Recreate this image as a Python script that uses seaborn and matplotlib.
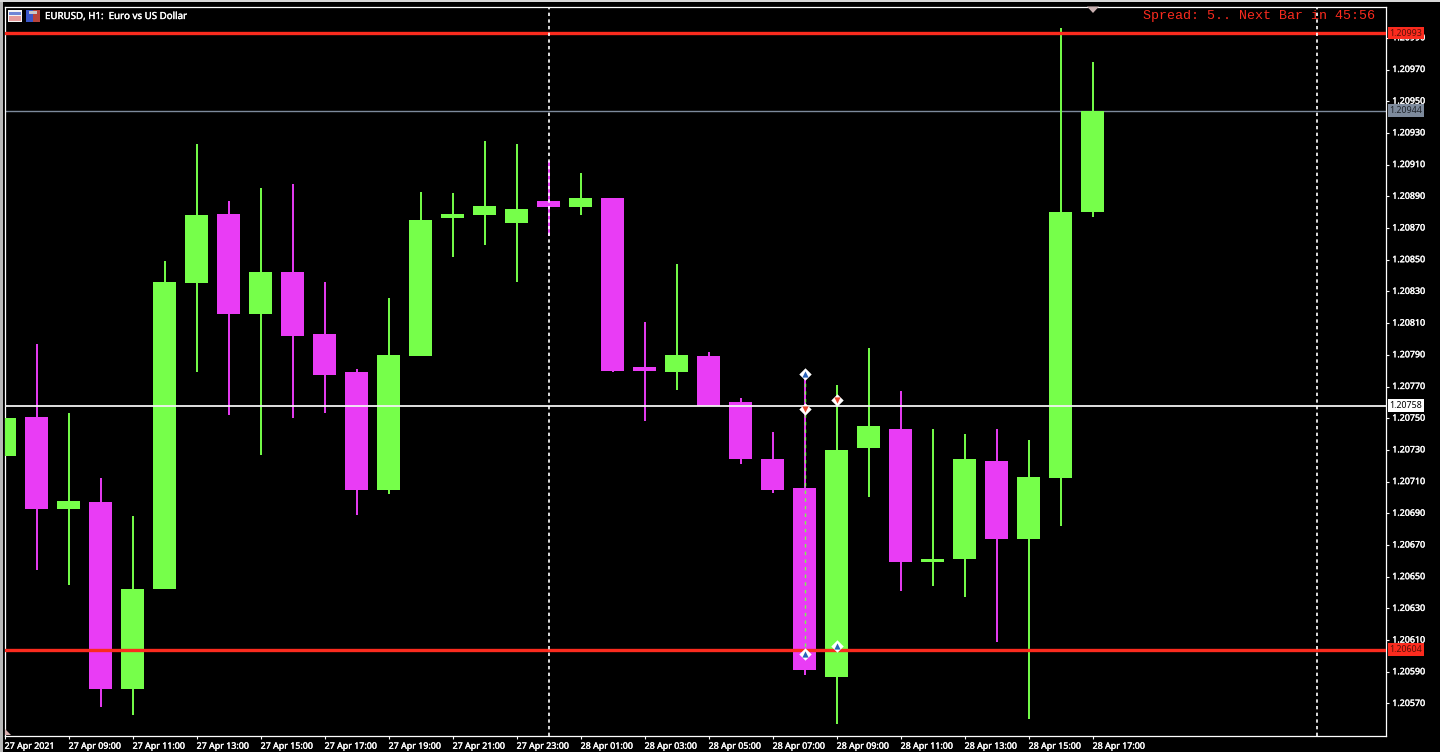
import matplotlib
matplotlib.use("Agg")
import matplotlib.pyplot as plt
import matplotlib.patheffects as pe
from matplotlib.patches import Rectangle
from matplotlib.ticker import FixedLocator
import numpy as np
import pandas as pd
import seaborn as sns

# candle values, oldest first (27 Apr 2021 07:00 onward, one per hour)
open_px = [1.20726, 1.20751, 1.20693, 1.20697, 1.20579, 1.20642, 1.20835, 1.20879, 1.20816, 1.20842,
           1.20803, 1.20779, 1.20705, 1.20789, 1.20876, 1.20878, 1.20873, 1.20887, 1.20883, 1.20889,
           1.20782, 1.20779, 1.20789, 1.20760, 1.20724, 1.20706, 1.20587, 1.20731, 1.20743, 1.20659,
           1.20661, 1.20723, 1.20674, 1.20712, 1.20880]
close_px = [1.20750, 1.20693, 1.20698, 1.20579, 1.20642, 1.20836, 1.20878, 1.20816, 1.20842, 1.20802,
            1.20777, 1.20705, 1.20790, 1.20875, 1.20879, 1.20884, 1.20882, 1.20883, 1.20889, 1.20780,
            1.20780, 1.20790, 1.20758, 1.20724, 1.20705, 1.20591, 1.20730, 1.20745, 1.20659, 1.20661,
            1.20724, 1.20674, 1.20713, 1.20880, 1.20944]
high_px = [1.20750, 1.20797, 1.20753, 1.20712, 1.20688, 1.20849, 1.20923, 1.20887, 1.20895, 1.20898,
           1.20836, 1.20781, 1.20826, 1.20893, 1.20892, 1.20925, 1.20923, 1.20912, 1.20905, 1.20889,
           1.20811, 1.20847, 1.20792, 1.20763, 1.20741, 1.20778, 1.20771, 1.20794, 1.20767, 1.20743,
           1.20740, 1.20743, 1.20736, 1.20996, 1.20975]
low_px = [1.20726, 1.20654, 1.20645, 1.20568, 1.20563, 1.20642, 1.20779, 1.20752, 1.20727, 1.20750,
          1.20753, 1.20689, 1.20702, 1.20789, 1.20852, 1.20859, 1.20836, 1.20865, 1.20878, 1.20779,
          1.20748, 1.20768, 1.20758, 1.20721, 1.20703, 1.20588, 1.20557, 1.20700, 1.20641, 1.20644,
          1.20637, 1.20609, 1.20560, 1.20682, 1.20877]

y_ticks = [1.20570, 1.20590, 1.20610, 1.20630, 1.20650, 1.20670, 1.20690, 1.20710, 1.20730, 1.20750,
           1.20770, 1.20790, 1.20810, 1.20830, 1.20850, 1.20870, 1.20890, 1.20910, 1.20930, 1.20950,
           1.20970, 1.20990]
x_tick_pos = [0, 2, 4, 6, 8, 10, 12, 14, 16, 18, 20, 22, 24, 26, 28, 30, 32, 34]
x_tick_labels = ["27 Apr 2021", "27 Apr 09:00", "27 Apr 11:00", "27 Apr 13:00", "27 Apr 15:00",
                 "27 Apr 17:00", "27 Apr 19:00", "27 Apr 21:00", "27 Apr 23:00", "28 Apr 01:00",
                 "28 Apr 03:00", "28 Apr 05:00", "28 Apr 07:00", "28 Apr 09:00", "28 Apr 11:00",
                 "28 Apr 13:00", "28 Apr 15:00", "28 Apr 17:00"]

red_levels = [1.20993, 1.20604]
grey_level = 1.20944
white_level = 1.20758
day_separators = [17, 41]
entry_bars = [25, 26]
entry_up = [1.20778, 1.20606]
entry_down = [1.20756, 1.207615]
entry_low = [1.20601]

W, H = 1440, 752
GREEN, MAGENTA, RED, SLATE = "#76ff4a", "#e93cf5", "#fb2b1e", "#7d8a9c"
FONT = ["Noto Sans", "DejaVu Sans"]
heavy = [pe.withStroke(linewidth=0.25, foreground="white")]

sns.set_theme(style="white")
plt.rcParams["font.family"] = FONT

df = pd.DataFrame(dict(i=range(len(open_px)), o=open_px, c=close_px, h=high_px, l=low_px))
df["bottom"] = df[["o", "c"]].min(axis=1)
df["body"] = (df.c - df.o).abs()
df["up"] = df.c >= df.o

fig = plt.figure(figsize=(W / 100, H / 100), dpi=100, facecolor="black")
L, R, T, B = 4.5, 1386, 6.5, 735.5
ax = fig.add_axes([L / W, 1 - B / H, (R - L) / W, (B - T) / H], facecolor="black")

# wicks
ax.vlines(df.i[df.up], df.l[df.up], df.h[df.up], color=GREEN, lw=1.4, zorder=2)
ax.vlines(df.i[~df.up], df.l[~df.up], df.h[~df.up], color=MAGENTA, lw=1.4, zorder=2)

# bodies
for mask, col in ((df.up, GREEN), (~df.up, MAGENTA)):
    sub = df[mask]
    sns.barplot(data=sub, x="i", y="body", bottom=sub["bottom"].to_numpy(), color=col, saturation=1,
                native_scale=True, width=0.72, errorbar=None, linewidth=0, ax=ax, zorder=3)

# price lines
ax.axhline(grey_level, color=SLATE, lw=1.0, zorder=1)
ax.axhline(white_level, color="#f2f2f2", lw=1.3, zorder=5)
for v in red_levels:
    ax.axhline(v, color=RED, lw=2.4, zorder=5)
for v in day_separators:
    ax.axvline(v, color="white", lw=1.2, ls=(0, (2.0, 2.0)), zorder=6)

# trade markers
ax.vlines(entry_bars[0], entry_low[0], entry_up[0], color=GREEN, lw=1.0, ls=(0, (2.5, 3)), zorder=6)
ax.scatter(entry_bars, entry_up, marker="D", s=40, c="white", linewidths=0, zorder=7)
ax.scatter(entry_bars, entry_up, marker="^", s=20, c="#2a62b8", linewidths=0, zorder=8)
ax.scatter(entry_bars[0], entry_low[0], marker="D", s=40, c="white", linewidths=0, zorder=7)
ax.scatter(entry_bars[0], entry_low[0], marker="^", s=20, c="#2a62b8", linewidths=0, zorder=8)
ax.scatter(entry_bars, entry_down, marker="D", s=40, c="white", linewidths=0, zorder=7)
ax.scatter(entry_bars, entry_down, marker="v", s=20, c="#e8452c", linewidths=0, zorder=8)

ax.set_xlim((L - 4.6) / 32, (R - 4.6) / 32)
ax.set_ylim(1.20570 + (703.5 - B) / 158500, 1.20570 + (703.5 - T) / 158500)
ax.set_xlabel("")
ax.set_ylabel("")

ax.xaxis.set_major_locator(FixedLocator(x_tick_pos))
ax.set_xticklabels(x_tick_labels, ha="left", fontsize=6.4, color="white", path_effects=heavy)
ax.yaxis.tick_right()
ax.yaxis.set_major_locator(FixedLocator(y_ticks))
ax.set_yticklabels([f"{v:.5f}" for v in y_ticks], fontsize=6.4, color="white", va="center", path_effects=heavy)
ax.tick_params(axis="x", bottom=True, length=2.5, width=0.8, color="white", pad=2)
ax.tick_params(axis="y", right=True, length=2.5, width=0.8, color="white", pad=2)
for s in ax.spines.values():
    s.set_color("white")
    s.set_linewidth(0.9)
    s.set_visible(True)

# price tags on the axis
def tag(v, face, fg):
    ax.text(1.0025, v, f"{v:.5f}", transform=ax.get_yaxis_transform(), fontsize=6.4, color=fg, va="center",
            ha="left", zorder=20, clip_on=False,
            bbox=dict(boxstyle="square,pad=0.2", fc=face, ec="none"))

tag(red_levels[0], RED, "#5a1208")
tag(red_levels[1], RED, "#5a1208")
tag(grey_level, SLATE, "#20252c")
tag(white_level, "white", "black")

# header
fig.text(45 / W, 1 - 16.5 / H, "EURUSD, H1:  Euro vs US Dollar", color="white", fontsize=7.0, va="center", ha="left",
         path_effects=heavy)
fig.text(1375 / W, 1 - 15.5 / H, "Spread: 5.. Next Bar in 45:56", color="#fb2b1e", fontsize=9.6,
         family="Liberation Mono", va="center", ha="right")

# window chrome and the two small header icons
def rect(x, y, w, h, c, z=30):
    fig.add_artist(Rectangle((x / W, 1 - (y + h) / H), w / W, h / H, transform=fig.transFigure, fc=c, ec="none", zorder=z))

rect(0, 0, W, 2, "#d8d8d8")
rect(0, 2, 2.5, H - 2, "#b8b8b8")
rect(8, 10, 14, 12, "#f4f4f4")
rect(9, 12, 12, 3, "#6f86d6")
rect(9, 16, 5.5, 5, "#e59a9a")
rect(15, 16, 6, 5, "#e59a9a")
rect(26, 10, 7, 12, "#3a56c8")
rect(33, 10, 7, 12, "#b8443c")
rect(29, 11, 8, 3, "#c8c8c8")

# shift markers
fig.add_artist(plt.Polygon([[1087 / W, 1 - 6.5 / H], [1099 / W, 1 - 6.5 / H], [1093 / W, 1 - 13 / H]],
                           transform=fig.transFigure, fc="#c9b0b0", ec="none", zorder=30))
fig.add_artist(plt.Polygon([[5 / W, 1 - 735 / H], [11 / W, 1 - 735 / H], [5 / W, 1 - 729 / H]],
                           transform=fig.transFigure, fc="#d9b0b0", ec="none", zorder=30))

fig.savefig("out.png", dpi=100, facecolor="black")
